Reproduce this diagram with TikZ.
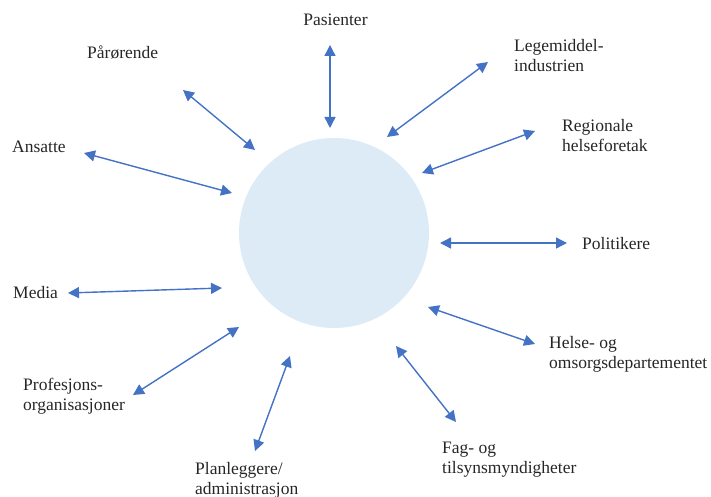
\documentclass[tikz,border=0pt]{standalone}
\usepackage{fontspec}
\setmainfont{Liberation Serif}
\usetikzlibrary{arrows.meta}
\definecolor{arrowblue}{HTML}{4472C4}
\definecolor{circfill}{HTML}{DDEBF7}
\tikzset{
  lbl/.style={inner sep=0pt, anchor=base west, align=left, font=\fontsize{17.5}{20}\selectfont, text=black!85},
  link/.style={draw=arrowblue, line width=1.4pt, {Triangle[length=11pt,width=11pt]}-{Triangle[length=11pt,width=11pt]}}
}
\begin{document}
\begin{tikzpicture}[x=1pt,y=-1pt]
\useasboundingbox (0,0) rectangle (711,497);
\node[circle, fill=circfill, minimum size=190pt, inner sep=0pt] (hub) at (334,233) {};

\node[lbl, anchor=base] (pas) at (335.5,26) {Pasienter};
\node[lbl] (par) at (87,59) {Pårørende};
\node[lbl] (ans) at (12,153) {Ansatte};
\node[lbl] (leg) at (514,72) {Legemiddel-\\industrien};
\node[lbl] (reg) at (562,152) {Regionale\\helseforetak};
\node[lbl] (pol) at (582,249) {Politikere};
\node[lbl] (hel) at (549,368) {Helse- og\\omsorgsdepartementet};
\node[lbl] (fag) at (442,473) {Fag- og\\tilsynsmyndigheter};
\node[lbl] (pla) at (195,494) {Planleggere/\\administrasjon};
\node[lbl] (pro) at (23,410) {Profesjons-\\organisasjoner};
\node[lbl] (med) at (13,298) {Media};

\coordinate (pasA) at (330,45);  \coordinate (pasB) at (330,128);
\coordinate (parA) at (183,90);  \coordinate (parB) at (255,150);
\coordinate (ansA) at (84,153);  \coordinate (ansB) at (232,193);
\coordinate (legA) at (488,62);  \coordinate (legB) at (387,137);
\coordinate (regA) at (535,131); \coordinate (regB) at (422,173);
\coordinate (polA) at (440,243); \coordinate (polB) at (567,243);
\coordinate (helA) at (428,307); \coordinate (helB) at (535,344);
\coordinate (fagA) at (396,346); \coordinate (fagB) at (456,422);
\coordinate (plaA) at (290,356); \coordinate (plaB) at (255,451);
\coordinate (proA) at (239,327); \coordinate (proB) at (133,395);
\coordinate (medA) at (68,293);  \coordinate (medB) at (222,288);

\draw[link] (pasA) -- (pasB);
\draw[link] (parA) -- (parB);
\draw[link] (ansA) -- (ansB);
\draw[link] (legA) -- (legB);
\draw[link] (regA) -- (regB);
\draw[link] (polA) -- (polB);
\draw[link] (helA) -- (helB);
\draw[link] (fagA) -- (fagB);
\draw[link] (plaA) -- (plaB);
\draw[link] (proA) -- (proB);
\draw[link] (medA) -- (medB);
\end{tikzpicture}
\end{document}
